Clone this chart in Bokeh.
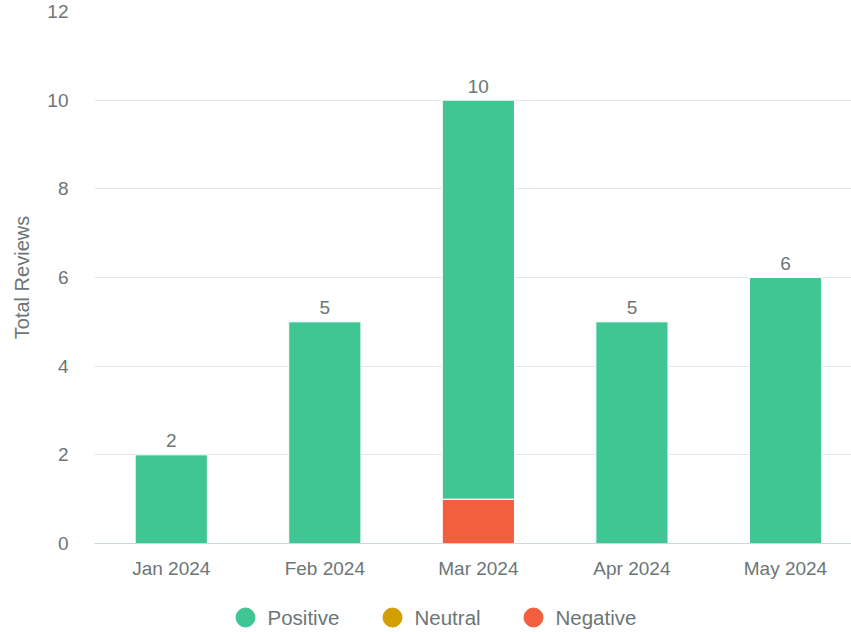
from bokeh.plotting import figure
from bokeh.layouts import column
from bokeh.models import ColumnDataSource, Range1d, FixedTicker
from bokeh.core.properties import value
from bokeh.embed import file_html
from bokeh.resources import INLINE

months = ["Jan 2024", "Feb 2024", "Mar 2024", "Apr 2024", "May 2024"]
positive = [2, 5, 9, 5, 6]
neutral = [0, 0, 0, 0, 0]
negative = [0, 0, 1, 0, 0]
totals = [p + n + g for p, n, g in zip(positive, neutral, negative)]
y_ticks = [0, 2, 4, 6, 8, 10, 12]
legend_labels = ["Positive", "Neutral", "Negative"]

series = ["Negative", "Neutral", "Positive"]
colors = {"Positive": "#3fc693", "Neutral": "#d39e00", "Negative": "#f35e40"}
TEXT = "#6c7676"
FONT = "Liberation Sans"

idx = list(range(len(months)))
src = ColumnDataSource(dict(x=idx, Positive=positive, Neutral=neutral,
                            Negative=negative, total=totals))

# the original plot area runs past the right edge of the window
p = figure(x_range=Range1d(-0.5, 4.43), y_range=Range1d(0, 12),
           width=851, height=584, output_backend="svg", toolbar_location=None,
           min_border_left=94, min_border_right=0, min_border_top=11, min_border_bottom=41)
p.outline_line_color = None

p.vbar_stack(series, x="x", width=0.47, source=src,
             color=[colors[s] for s in series], line_color="white", line_width=1)

p.text(x="x", y="total", text="total", source=src, y_offset=-14,
       text_align="center", text_baseline="alphabetic", text_color=TEXT,
       text_font=value(FONT), text_font_size="19px")

p.yaxis.ticker = FixedTicker(ticks=y_ticks)
p.yaxis.axis_line_color = None
p.yaxis.major_tick_line_color = None
p.yaxis.minor_tick_line_color = None
p.yaxis.major_label_standoff = 20
p.yaxis.major_label_text_font = FONT
p.yaxis.major_label_text_font_size = "19px"
p.yaxis.major_label_text_color = TEXT
p.yaxis.axis_label = "Total Reviews"
p.yaxis.axis_label_text_font = FONT
p.yaxis.axis_label_text_font_size = "20px"
p.yaxis.axis_label_text_font_style = "normal"
p.yaxis.axis_label_text_color = TEXT
p.yaxis.axis_label_standoff = 11

p.xaxis.ticker = FixedTicker(ticks=idx)
p.xaxis.major_label_overrides = {i: m for i, m in zip(idx, months)}
p.xaxis.axis_line_color = "#ccd6eb"
p.xaxis.major_tick_line_color = None
p.xaxis.minor_tick_line_color = None
p.xaxis.major_label_standoff = 8
p.xaxis.major_label_text_font = FONT
p.xaxis.major_label_text_font_size = "19px"
p.xaxis.major_label_text_color = TEXT

p.xgrid.grid_line_color = None
p.ygrid.grid_line_color = "#e6e6e6"
p.ygrid.grid_line_width = 1

# legend strip below the chart (layout in screen pixels; frame is aligned with the chart's)
LF_H = 48
lf = figure(width=851, height=LF_H, x_range=Range1d(94, 851), y_range=Range1d(0, LF_H),
            output_backend="svg", toolbar_location=None,
            min_border_left=0, min_border_right=0, min_border_top=0, min_border_bottom=0)
lf.axis.visible = False
lf.grid.visible = False
lf.outline_line_color = None
legend_marker_x = [245, 392, 533]
legend_y = 15
lsrc = ColumnDataSource(dict(
    x=legend_marker_x,
    tx=[x + 22 for x in legend_marker_x],
    y=[legend_y] * len(legend_labels),
    label=legend_labels,
    color=[colors[s] for s in legend_labels],
))
lf.scatter(x="x", y="y", size=19, marker="circle", color="color", source=lsrc)
lf.text(x="tx", y="y", text="label", source=lsrc, text_align="left",
        text_baseline="middle", text_color=TEXT, text_font=value(FONT),
        text_font_size="20.5px")

layout = column(p, lf, spacing=0)
open("out.html", "w").write(file_html(layout, INLINE))
